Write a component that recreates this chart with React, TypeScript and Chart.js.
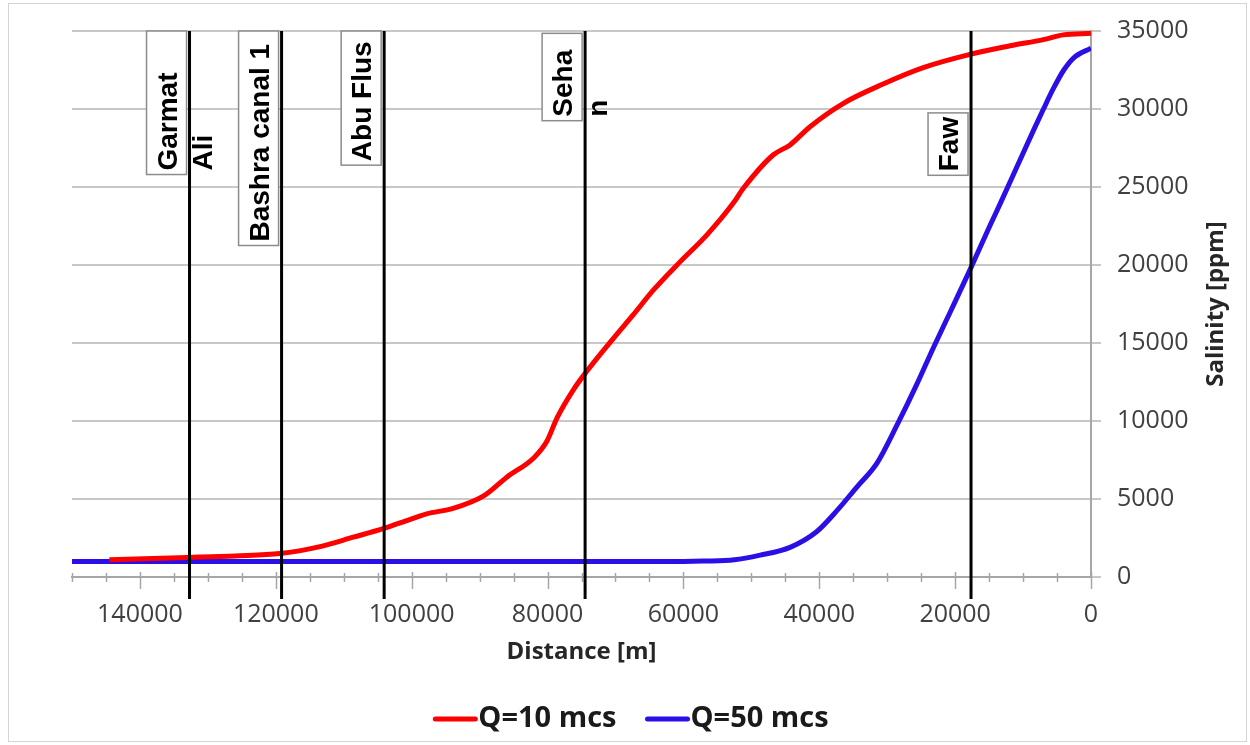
import React, { useEffect, useRef } from "react";
import { Chart, registerables } from "chart.js";

Chart.register(...registerables);

// ---- Data ----
const xTickValues = [0, 20000, 40000, 60000, 80000, 100000, 120000, 140000];
const xMinorStep = 5000;
const xMin = 0;
const xMax = 150000;
const yTickValues = [0, 5000, 10000, 15000, 20000, 25000, 30000, 35000];

const redLabel = "Q=10 mcs";
const redDist = [144500, 133000, 126000, 119400, 113500, 108600, 104200, 100200, 97800, 93900, 89400, 86000, 82000, 80100, 78600, 76200, 74200, 70300, 67400, 64400, 60500, 56600, 52600, 51200, 46800, 44300, 41400, 36500, 30600, 24700, 17800, 11900, 7000, 4100, 0];
const redSal = [1100, 1250, 1350, 1500, 1950, 2550, 3100, 3700, 4050, 4400, 5200, 6400, 7650, 8700, 10200, 12000, 13200, 15300, 16800, 18400, 20200, 21900, 24000, 24900, 27050, 27700, 28850, 30350, 31600, 32650, 33500, 34050, 34450, 34750, 34850];

const blueLabel = "Q=50 mcs";
const blueDist = [150000, 100000, 60000, 57000, 52500, 48700, 44300, 40400, 37400, 34500, 31500, 28600, 25700, 23200, 20700, 17800, 14900, 13400, 10900, 8500, 7100, 5550, 4000, 2500, 0];
const blueSal = [1000, 1000, 1000, 1020, 1100, 1400, 1900, 2900, 4250, 5750, 7300, 9700, 12300, 14700, 17000, 19700, 22500, 23900, 26300, 28600, 29900, 31300, 32500, 33300, 33900];

const markerNames = [["Garmat", "Ali"], ["Bashra canal 1"], ["Abu Flus"], ["Seha", "n"], ["Faw"]];
const markerDist = [132700, 119150, 104050, 74470, 17660];
const markerBoxTop = [35000, 35000, 35000, 34850, 29750];
const markerBoxBottom = [25800, 21250, 26400, 29250, 25750];

const xTitle = "Distance [m]";
const yTitle = "Salinity [ppm]";

// ---- Styles ----
const RED = "#ff0000";
const BLUE = "#2a10e6";
const TICK_FONT = "Open Sans";
const AXIS_GRAY = "#a6a6a6";

const overlay = {
  id: "overlay",
  beforeDraw(chart: any) {
    const { ctx, width, height } = chart;
    ctx.save();
    ctx.fillStyle = "#ffffff";
    ctx.fillRect(0, 0, width, height);
    ctx.restore();
  },
  afterDatasetsDraw(chart: any) {
    const { ctx, chartArea: a, scales } = chart;
    const x = scales.x;
    const y = scales.y;
    ctx.save();
    // x axis minor/major tick marks
    ctx.strokeStyle = AXIS_GRAY;
    ctx.lineWidth = 1.5;
    for (let v = xMin; v <= xMax; v += xMinorStep) {
      const px = Math.round(x.getPixelForValue(v)) + 0.5;
      const major = xTickValues.includes(v);
      ctx.beginPath();
      ctx.moveTo(px, a.bottom - (major ? 5 : 4));
      ctx.lineTo(px, a.bottom + (major ? 12 : 5));
      ctx.stroke();
    }
    // marker lines
    ctx.strokeStyle = "#000000";
    ctx.lineWidth = 3;
    markerDist.forEach((d) => {
      const px = x.getPixelForValue(d);
      ctx.beginPath();
      ctx.moveTo(px, a.top);
      ctx.lineTo(px, a.bottom + 22);
      ctx.stroke();
    });
    // marker label boxes
    markerDist.forEach((d, i) => {
      const px = x.getPixelForValue(d);
      const right = px - 3;
      const left = right - 40;
      const top = y.getPixelForValue(markerBoxTop[i]);
      const bottom = y.getPixelForValue(markerBoxBottom[i]);
      ctx.fillStyle = "#ffffff";
      ctx.fillRect(left, top, 40, bottom - top);
      ctx.strokeStyle = "#8c8c8c";
      ctx.lineWidth = 1.5;
      ctx.strokeRect(left, top, 40, bottom - top);
      ctx.save();
      ctx.translate(left + 20, bottom - 4);
      ctx.rotate(-Math.PI / 2);
      ctx.fillStyle = "#000000";
      ctx.font = "bold 28px 'Liberation Sans', Arial, sans-serif";
      ctx.textAlign = "left";
      ctx.textBaseline = "alphabetic";
      markerNames[i].forEach((line, k) => {
        ctx.fillText(line, 0, 10 + k * 35);
      });
      ctx.restore();
    });
    ctx.restore();
  },
  afterDraw(chart: any) {
    const { ctx, chartArea: a } = chart;
    ctx.save();
    // axis titles
    ctx.fillStyle = "#262626";
    ctx.font = `bold 24px '${TICK_FONT}'`;
    ctx.textAlign = "center";
    ctx.textBaseline = "middle";
    ctx.fillText(xTitle, (a.left + a.right) / 2, 652);
    ctx.save();
    ctx.translate(1216, (a.top + a.bottom) / 2);
    ctx.rotate(-Math.PI / 2);
    ctx.fillText(yTitle, 0, 0);
    ctx.restore();
    // legend
    const ds = chart.data.datasets;
    ctx.font = `bold 29px '${TICK_FONT}'`;
    const lineLen = 40;
    const gapAfterLine = 3;
    const gapBetween = 31;
    const widths = ds.map((d: any) => lineLen + gapAfterLine + ctx.measureText(d.label).width);
    const total = widths.reduce((s: number, w: number) => s + w, 0) + gapBetween * (ds.length - 1);
    let cx = 632 - total / 2;
    const ly = 719;
    ds.forEach((d: any, i: number) => {
      ctx.strokeStyle = d.borderColor;
      ctx.lineWidth = 5;
      ctx.lineCap = "round";
      ctx.beginPath();
      ctx.moveTo(cx, ly);
      ctx.lineTo(cx + lineLen, ly);
      ctx.stroke();
      ctx.fillStyle = "#1a1a1a";
      ctx.textAlign = "left";
      ctx.textBaseline = "middle";
      ctx.fillText(d.label, cx + lineLen + gapAfterLine, ly);
      cx += widths[i] + gapBetween;
    });
    // outer chart border
    ctx.strokeStyle = "#d4d4d4";
    ctx.lineWidth = 1;
    ctx.strokeRect(8.5, 3.5, 1238, 738);
    ctx.restore();
  },
};

export default function App() {
  const ref = useRef<HTMLCanvasElement>(null);
  useEffect(() => {
    document.body.style.margin = "0";
    const canvas = ref.current;
    if (!canvas) return;
    const chart = new Chart(canvas, {
      type: "scatter",
      data: {
        datasets: [
          {
            label: redLabel,
            data: redDist.map((d, i) => ({ x: d, y: redSal[i] })),
            borderColor: RED,
            backgroundColor: RED,
            borderWidth: 5,
            showLine: true,
            pointRadius: 0,
            cubicInterpolationMode: "monotone",
          },
          {
            label: blueLabel,
            data: blueDist.map((d, i) => ({ x: d, y: blueSal[i] })),
            borderColor: BLUE,
            backgroundColor: BLUE,
            borderWidth: 5,
            showLine: true,
            pointRadius: 0,
            cubicInterpolationMode: "monotone",
          },
        ],
      },
      options: {
        responsive: false,
        animation: false,
        devicePixelRatio: 1,
        layout: { padding: { left: 72, top: 28, right: 0, bottom: 0 } },
        plugins: {
          legend: { display: false },
          tooltip: { enabled: false },
        },
        scales: {
          x: {
            type: "linear",
            reverse: true,
            min: xMin,
            max: xMax,
            afterBuildTicks: (s: any) => {
              s.ticks = xTickValues.map((v) => ({ value: v }));
            },
            afterFit: (s: any) => {
              s.height = 168;
            },
            ticks: {
              autoSkip: false,
              maxRotation: 0,
              minRotation: 0,
              padding: 23,
              color: "#404040",
              font: { family: TICK_FONT, size: 25 },
              callback: (v: any) => String(v),
            },
            grid: { display: false, drawTicks: false },
            border: { display: true, color: AXIS_GRAY, width: 2 },
          },
          y: {
            type: "linear",
            position: "right",
            min: 0,
            max: 35000,
            afterBuildTicks: (s: any) => {
              s.ticks = yTickValues.map((v) => ({ value: v }));
            },
            afterFit: (s: any) => {
              s.width = 159;
            },
            ticks: {
              padding: 16,
              color: "#404040",
              font: { family: TICK_FONT, size: 25 },
              callback: (v: any) => String(v),
            },
            grid: { color: "#c8c8c8", lineWidth: 2, tickLength: 10, drawTicks: true },
            border: { display: true, color: AXIS_GRAY, width: 2 },
          },
        },
      },
      plugins: [overlay],
    });
    return () => chart.destroy();
  }, []);
  return (
    <div style={{ position: "absolute", left: 0, top: 0, width: 1250, height: 745, background: "#fff" }}>
      <canvas ref={ref} width={1250} height={745} style={{ display: "block", width: 1250, height: 745 }} />
    </div>
  );
}
